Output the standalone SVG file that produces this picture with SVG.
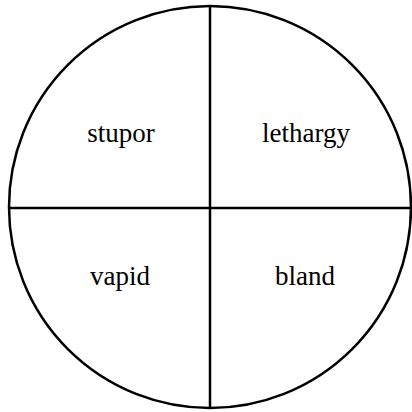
<svg xmlns="http://www.w3.org/2000/svg" width="412" height="412" viewBox="0 0 412 412">
<style>
.l{stroke:#000;stroke-width:2.5;fill:none}
.t{font-family:"Liberation Serif",serif;font-size:27px;fill:#000;text-anchor:middle}
</style>
<rect width="412" height="412" fill="#fff"/>
<g id="connectors">
<circle class="l" cx="210" cy="207" r="201"/>
<line class="l" x1="210" y1="6" x2="210" y2="408"/>
<line class="l" x1="9" y1="208" x2="411" y2="208"/>
</g>
<g id="stupor"><text class="t" x="121" y="142">stupor</text></g>
<g id="lethargy"><text class="t" x="306" y="142">lethargy</text></g>
<g id="vapid"><text class="t" x="120" y="285">vapid</text></g>
<g id="bland"><text class="t" x="305" y="285">bland</text></g>
</svg>
